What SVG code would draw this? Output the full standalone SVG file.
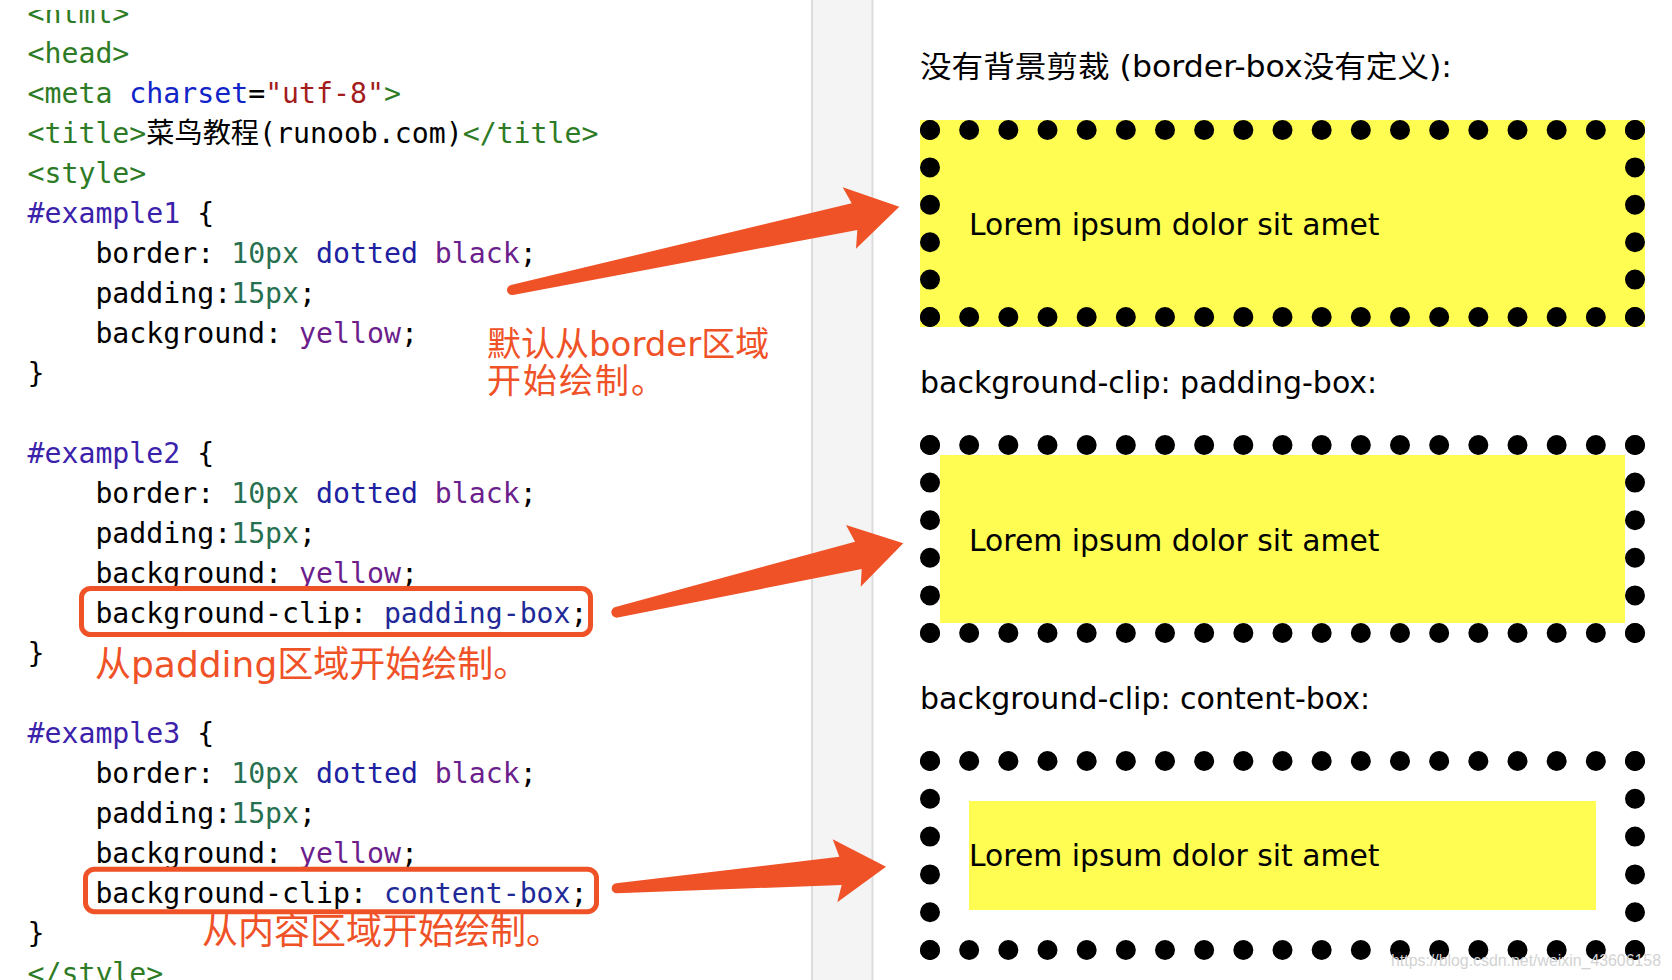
<svg xmlns="http://www.w3.org/2000/svg" width="1672" height="980" viewBox="0 0 1672 980">
<defs>
<style>
.code{font-family:"DejaVu Sans Mono","Noto Sans CJK SC",monospace;font-size:28.2px;fill:#000}
.tg{fill:#2e7b25}
.at{fill:#1024c8}
.st{fill:#a31d1d}
.sel{fill:#3b22ab}
.num{fill:#27704f}
.kw{fill:#2020a0}
.col{fill:#6b1e8c}
.val{fill:#1f2a98}
.note{font-family:"DejaVu Sans","Noto Sans CJK SC",sans-serif;fill:#f05228}
.hd{font-family:"DejaVu Sans","Noto Sans CJK SC",sans-serif;font-size:30px;fill:#000}
.lorem{font-family:"DejaVu Sans","Liberation Sans",sans-serif;font-size:29.8px;fill:#000}
.yel{fill:#fffc52}
.row{fill:none;stroke:#000;stroke-width:20;stroke-linecap:round;stroke-dasharray:0 39.1667}
.colm{fill:none;stroke:#000;stroke-width:20;stroke-linecap:round}
.hl{fill:none;stroke:#f05228;stroke-width:5}
.arrow{fill:#f05228}
.wm{font-family:"Liberation Sans",sans-serif;font-size:16px;fill:#d2d2d2}
</style>
<clipPath id="topclip"><rect x="0" y="10" width="800" height="40"/></clipPath>
</defs>
<rect x="0" y="0" width="1672" height="980" fill="#ffffff"/>
<g id="divider">
<rect x="811" y="0" width="62" height="980" fill="#f4f4f4"/>
<line x1="812" y1="0" x2="812" y2="980" stroke="#dcdcdc" stroke-width="2"/>
<line x1="872.5" y1="0" x2="872.5" y2="980" stroke="#dcdcdc" stroke-width="2"/>
</g>
<g id="code" class="code" xml:space="preserve">
<text x="27.5" y="23.3" clip-path="url(#topclip)"><tspan class="tg">&lt;html&gt;</tspan></text>
<text x="27.5" y="63.3"><tspan class="tg">&lt;head&gt;</tspan></text>
<text x="27.5" y="103.3"><tspan class="tg">&lt;meta</tspan> <tspan class="at">charset</tspan>=<tspan class="st">"utf-8"</tspan><tspan class="tg">&gt;</tspan></text>
<text x="27.5" y="143.3"><tspan class="tg">&lt;title&gt;</tspan>菜鸟教程(runoob.com)<tspan class="tg">&lt;/title&gt;</tspan></text>
<text x="27.5" y="183.3"><tspan class="tg">&lt;style&gt;</tspan></text>
<text x="27.5" y="223.3"><tspan class="sel">#example1</tspan> {</text>
<text x="95.4" y="263.3">border: <tspan class="num">10px</tspan> <tspan class="kw">dotted</tspan> <tspan class="col">black</tspan>;</text>
<text x="95.4" y="303.3">padding:<tspan class="num">15px</tspan>;</text>
<text x="95.4" y="343.3">background: <tspan class="col">yellow</tspan>;</text>
<text x="27.5" y="383.3">}</text>
<text x="27.5" y="463.3"><tspan class="sel">#example2</tspan> {</text>
<text x="95.4" y="503.3">border: <tspan class="num">10px</tspan> <tspan class="kw">dotted</tspan> <tspan class="col">black</tspan>;</text>
<text x="95.4" y="543.3">padding:<tspan class="num">15px</tspan>;</text>
<text x="95.4" y="583.3">background: <tspan class="col">yellow</tspan>;</text>
<text x="95.4" y="623.3">background-clip: <tspan class="val">padding-box</tspan>;</text>
<text x="27.5" y="663.3">}</text>
<text x="27.5" y="743.3"><tspan class="sel">#example3</tspan> {</text>
<text x="95.4" y="783.3">border: <tspan class="num">10px</tspan> <tspan class="kw">dotted</tspan> <tspan class="col">black</tspan>;</text>
<text x="95.4" y="823.3">padding:<tspan class="num">15px</tspan>;</text>
<text x="95.4" y="863.3">background: <tspan class="col">yellow</tspan>;</text>
<text x="95.4" y="903.3">background-clip: <tspan class="val">content-box</tspan>;</text>
<text x="27.5" y="943.3">}</text>
<text x="27.5" y="983.3"><tspan class="tg">&lt;/style&gt;</tspan></text>
</g>
<g id="highlight-padding"><rect class="hl" x="81.5" y="588.5" width="509" height="46" rx="9"/></g>
<g id="highlight-content"><rect class="hl" x="85.5" y="869.2" width="511" height="42.5" rx="9"/></g>
<g id="note-border"><text class="note" font-size="34"><tspan x="487" y="356">默认从border区域</tspan><tspan x="487" y="393" letter-spacing="2">开始绘制。</tspan></text></g>
<g id="note-padding"><text class="note" font-size="36" x="95" y="677">从padding区域开始绘制。</text></g>
<g id="note-content"><text class="note" font-size="36" x="202" y="944">从内容区域开始绘制。</text></g>
<g id="heading1"><text class="hd" x="920" y="77" textLength="532" lengthAdjust="spacingAndGlyphs">没有背景剪裁 (border-box没有定义):</text></g>
<g id="example1">
<rect class="yel" x="920" y="120" width="725" height="207"/>
<path class="row" d="M930 130H1635.2M930 317H1635.2"/>
<path class="colm" style="stroke-dasharray:0 37.4" d="M930 130V317.2M1635 130V317.2"/>
<text class="lorem" x="969" y="235">Lorem ipsum dolor sit amet</text>
</g>
<g id="heading2"><text class="hd" x="920" y="392.6">background-clip: padding-box:</text></g>
<g id="example2">
<rect class="yel" x="940" y="455" width="685" height="168"/>
<path class="row" d="M930 445H1635.2M930 633H1635.2"/>
<path class="colm" style="stroke-dasharray:0 37.6" d="M930 445V633.2M1635 445V633.2"/>
<text class="lorem" x="969" y="550.6">Lorem ipsum dolor sit amet</text>
</g>
<g id="heading3"><text class="hd" x="920" y="709">background-clip: content-box:</text></g>
<g id="example3">
<rect class="yel" x="969" y="801" width="627" height="109"/>
<path class="row" d="M930 761H1635.2M930 950H1635.2"/>
<path class="colm" style="stroke-dasharray:0 37.8" d="M930 761V950.2M1635 761V950.2"/>
<text class="lorem" x="969" y="866">Lorem ipsum dolor sit amet</text>
</g>
<g id="connectors">
<path class="arrow" d="M510.95 285.1L851.7 203.3L842.7 187.3L899.3 206.7L856 248.7L857.3 230L513.05 294.9A5 5 0 0 1 510.95 285.1Z"/>
<path class="arrow" d="M615.5 607.1L855 541.7L846 525L903.3 543.3L860.7 586.7L861.7 569L617.9 617.5A5.3 5.3 0 0 1 615.5 607.1Z"/>
<path class="arrow" d="M616.3 883.3L839.3 856.7L832.7 839.3L886 866.7L837.3 902.3L841.7 885L617.1 893.3A5 5 0 0 1 616.3 883.3Z"/>
</g>
<text class="wm" x="1391" y="966" textLength="270" lengthAdjust="spacingAndGlyphs">https://blog.csdn.net/weixin_43606158</text>
</svg>
